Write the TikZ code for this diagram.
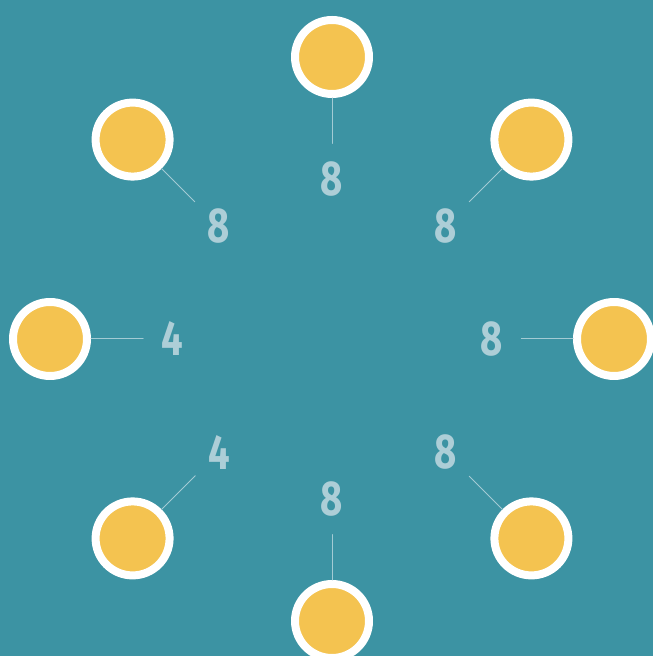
\documentclass[tikz,border=0pt]{standalone}
\usepackage{fontspec}
\setmainfont{Fira Sans}
\usetikzlibrary{calc}
\definecolor{tealbg}{HTML}{3C93A3}
\definecolor{sunny}{HTML}{F4C350}
\definecolor{numcol}{HTML}{ADCED7}
\definecolor{spokecol}{HTML}{A3CBD4}
\tikzset{
  seat/.style={circle, fill=sunny, draw=white, line width=8pt, minimum size=74pt, inner sep=0pt},
  count/.style={text=numcol, font=\fontsize{49}{49}\selectfont\bfseries, xscale=0.78, inner sep=0pt},
  spoke/.style={draw=spokecol, line width=1pt, shorten >=18pt}
}
\begin{document}
\begin{tikzpicture}[x=1pt, y=1pt, line join=round, line cap=round]
	\fill[tealbg] (0,0) rectangle (653,656);
	\useasboundingbox (0,0) rectangle (653,656);
	\coordinate (O) at (332,317);
	
	\foreach \i/\ang/\val in {1/90/8, 2/45/8, 3/0/8, 4/-45/8, 5/-90/8, 6/-135/4, 7/180/4, 8/135/8} {
		\node[seat] (c\i) at ($(O)+(\ang:282)$) {};
		\node[count] (n\i) at ($(O)+(\ang:160)$) {\val};
		\draw[spoke] (c\i) -- (n\i);
	}
\end{tikzpicture}
\end{document}
